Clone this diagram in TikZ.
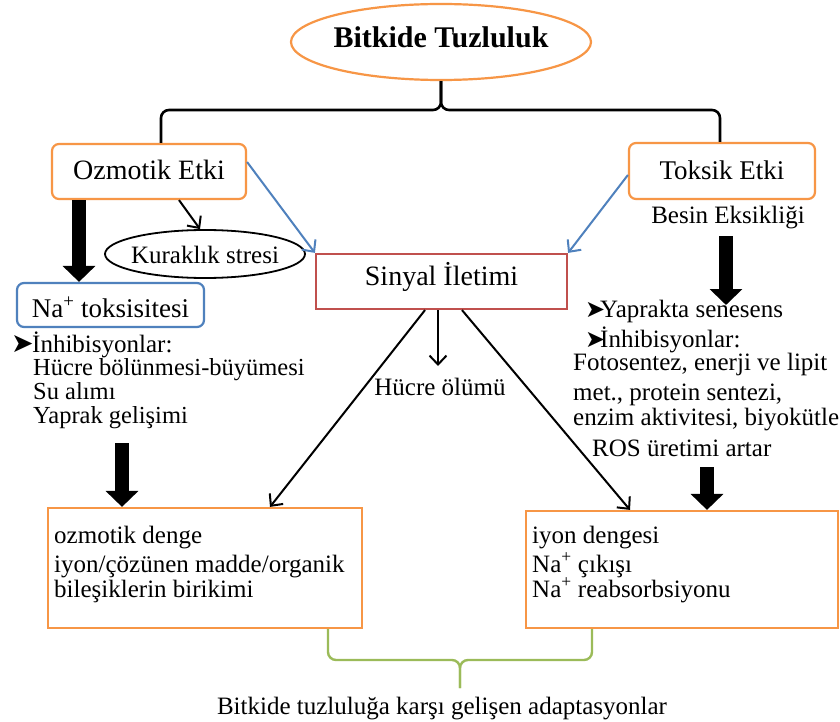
\documentclass[tikz,border=0pt]{standalone}
\usepackage{fontspec}
\setmainfont{Liberation Serif}
\newfontfamily\dejavu{DejaVu Sans}
\usetikzlibrary{arrows.meta,shapes.geometric}
\definecolor{orgC}{HTML}{F79646}
\definecolor{bluC}{HTML}{4F81BD}
\definecolor{redC}{HTML}{C0504D}
\definecolor{grnC}{HTML}{9BBB59}
\newcommand\fsz[1]{\fontsize{#1}{#1}\selectfont}
\newcommand\bul[2]{\makebox[#2][l]{\dejavu\fsz{#1}➤}}
\begin{document}
\begin{tikzpicture}[x=1pt,y=-1pt,
  obox/.style={draw=orgC, line width=2.2pt, rounded corners=7pt, inner sep=0pt},
  sbox/.style={draw=orgC, line width=2.2pt, inner sep=0pt},
  thinarr/.style={line width=2pt, -{Straight Barb[length=9pt,width=17pt]}},
  bluearr/.style={thinarr, draw=bluC},
  fatarr/.style={line width=14pt, -{Triangle[length=16pt,width=32pt]}},
  txt/.style={inner sep=0pt, font=\fsz{25}},
  brc/.style={line width=2.6pt, rounded corners=8pt},
  grnbrc/.style={draw=grnC, line width=2.4pt, rounded corners=8pt}]
\useasboundingbox (0,0) rectangle (840,722);
\fill[white] (0,0) rectangle (840,722);

% main nodes
\node[ellipse, draw=orgC, line width=2.2pt, minimum width=300pt, minimum height=76pt,
  inner xsep=-6pt, inner ysep=0pt, text height=12pt, text depth=0pt,
  font=\bfseries\fsz{30}] (title) at (441,42) {Bitkide Tuzluluk};
\node[obox, minimum width=194pt, minimum height=55pt, text height=17pt, text depth=0pt,
  font=\fsz{28}] (ozm) at (149,171.5) {Ozmotik Etki};
\node[obox, minimum width=186pt, minimum height=56pt, text height=18pt, text depth=0pt,
  font=\fsz{27}] (tox) at (722,171) {Toksik Etki};
\node[ellipse, draw, line width=1.8pt, minimum width=200pt, minimum height=48pt,
  inner xsep=-4pt, inner ysep=0pt, text height=18pt, text depth=0pt,
  font=\fsz{25}] (kur) at (205,254) {Kuraklık stresi};
\node[draw=redC, line width=2.2pt, minimum width=251pt, minimum height=55pt, inner sep=0pt,
  text height=13pt, text depth=6pt, font=\fsz{28}] (sin) at (441.5,281.5) {Sinyal İletimi};
\node[draw=bluC, line width=2.2pt, rounded corners=7pt, minimum width=187pt, minimum height=44pt,
  inner sep=0pt, text height=24pt, text depth=0pt, font=\fsz{27}] (na) at (110.5,305)
  {Na\textsuperscript{+} toksisitesi};
\node[sbox, minimum width=314pt, minimum height=120pt] (lbox) at (205,568) {};
\node[sbox, minimum width=312pt, minimum height=117pt] (rbox) at (682,569.5) {};

% texts
\node[txt, anchor=base] (besin) at (728,223) {Besin Eksikliği};
\node[txt, anchor=base west] (inhL) at (11,352) {\bul{27}{21pt}İnhibisyonlar:};
\node[txt, anchor=base west, font=\fsz{24.5}] (hb) at (33,375) {Hücre bölünmesi-büyümesi};
\node[txt, anchor=base west, font=\fsz{24.5}] (su) at (33,399) {Su alımı};
\node[txt, anchor=base west, font=\fsz{24.5}] (yg) at (33,423) {Yaprak gelişimi};
\node[txt, anchor=base west] (ys) at (585,317) {\bul{24}{15pt}Yaprakta senesens};
\node[txt, anchor=base west] (inhR) at (585,347) {\bul{24}{15pt}İnhibisyonlar:};
\node[txt, anchor=base west] (fe) at (573,370) {Fotosentez, enerji ve lipit};
\node[txt, anchor=base west] (mp) at (573,400) {met., protein sentezi,};
\node[txt, anchor=base west] (ea) at (573,425) {enzim aktivitesi, biyokütle};
\node[txt, anchor=base west] (ros) at (592,456) {ROS üretimi artar};
\node[txt, anchor=base] (hucre) at (440,395) {Hücre ölümü};
\node[txt, anchor=base west] (l1) at (54,543) {ozmotik denge};
\node[txt, anchor=base west] (l2) at (54,572) {iyon/çözünen madde/organik};
\node[txt, anchor=base west] (l3) at (54,597) {bileşiklerin birikimi};
\node[txt, anchor=base west] (r1) at (532,543) {iyon dengesi};
\node[txt, anchor=base west] (r2) at (532,572) {Na\textsuperscript{+} çıkışı};
\node[txt, anchor=base west] (r3) at (532,597) {Na\textsuperscript{+} reabsorbsiyonu};
\node[txt, anchor=base] (adapt) at (442,714) {Bitkide tuzluluğa karşı gelişen adaptasyonlar};

% reference coordinates
\coordinate (a1) at (79,0);
\coordinate (a2) at (179,0);
\coordinate (a3) at (200,0);
\coordinate (b1) at (0,162);
\coordinate (b2) at (0,175);
\coordinate (c1) at (438,0);
\coordinate (c2) at (425,0);
\coordinate (c3) at (270,0);
\coordinate (c4) at (462,0);
\coordinate (c5) at (630,0);
\coordinate (hcT) at (438,366);
\coordinate (d1) at (122,443);
\coordinate (d2) at (726,236);
\coordinate (d3) at (726,305);
\coordinate (d4) at (707,467);
\coordinate (tL) at (161,110);
\coordinate (tR) at (720,110);
\coordinate (tM) at (441,110);
\coordinate (gL) at (328,660);
\coordinate (gR) at (592,660);
\coordinate (gT) at (460,660);
\coordinate (gE) at (460,688);

% braces
\draw[brc] (ozm.north -| tL) -- (tL) -- (tM) -- (title.south);
\draw[brc] (tox.north -| tR) -- (tR) -- (tM) -- (title.south);
\draw[grnbrc] (lbox.south -| gL) -- (gL) -- (gT) -- (gE);
\draw[grnbrc] (rbox.south -| gR) -- (gR) -- (gT) -- (gE);

% connectors
\draw[fatarr] (ozm.south -| a1) -- (na.north -| a1);
\draw[thinarr] (ozm.south -| a2) -- (kur.north -| a3);
\draw[bluearr] (ozm.east |- b1) -- (sin.north west);
\draw[bluearr] (tox.west |- b2) -- (sin.north east);
\draw[thinarr] (sin.south -| c1) -- (hcT);
\draw[thinarr] (sin.south -| c2) -- (lbox.north -| c3);
\draw[thinarr] (sin.south -| c4) -- (rbox.north -| c5);
\draw[fatarr] (d1) -- (lbox.north -| d1);
\draw[fatarr] (d2) -- (d3);
\draw[fatarr] (d4) -- (rbox.north -| d4);
\end{tikzpicture}
\end{document}
